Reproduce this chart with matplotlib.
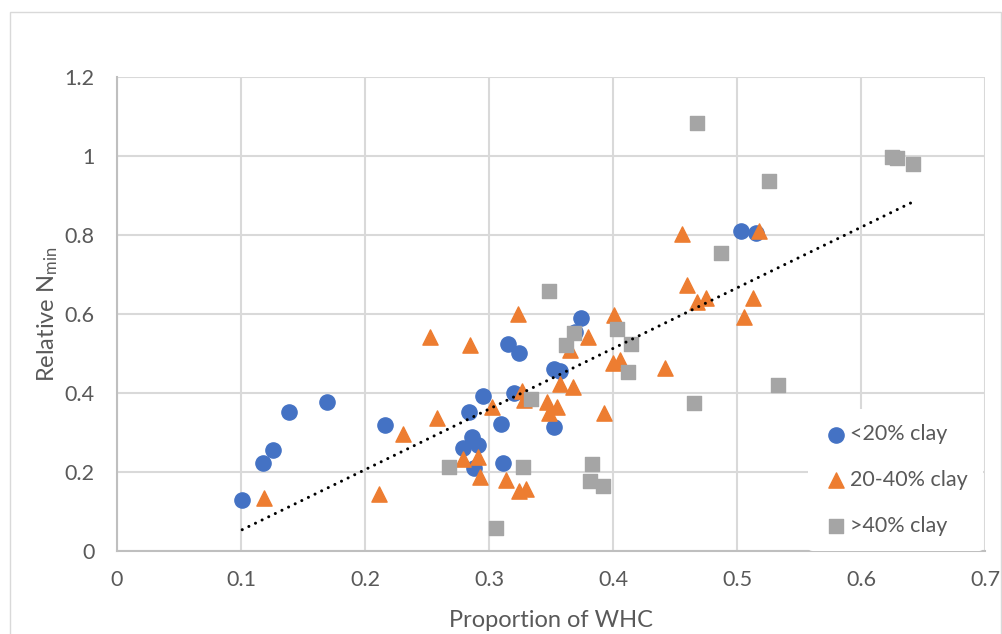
import numpy as np
import matplotlib
matplotlib.use("Agg")
import matplotlib.pyplot as plt
from matplotlib.patches import Rectangle

plt.rcParams["font.family"] = ["Lato", "DejaVu Sans"]
plt.rcParams["mathtext.default"] = "regular"

# <20% clay
low_x = [0.101, 0.1175, 0.126, 0.1387, 0.169, 0.216, 0.2949, 0.284, 0.286, 0.291,
         0.279, 0.288, 0.3745, 0.369, 0.3156, 0.3245, 0.3524, 0.357, 0.320, 0.310,
         0.3527, 0.3116, 0.503, 0.515]
low_y = [0.130, 0.224, 0.256, 0.351, 0.377, 0.319, 0.392, 0.353, 0.288, 0.268,
         0.260, 0.209, 0.589, 0.555, 0.523, 0.502, 0.460, 0.455, 0.401, 0.3205,
         0.313, 0.2236, 0.810, 0.804]

# 20-40% clay
mid_x = [0.1186, 0.2115, 0.2304, 0.2524, 0.2847, 0.2578, 0.3027, 0.279, 0.291, 0.2927,
         0.3234, 0.380, 0.365, 0.401, 0.400, 0.406, 0.357, 0.3675, 0.3264, 0.328,
         0.347, 0.3546, 0.348, 0.3927, 0.3137, 0.3245, 0.330, 0.4554, 0.460, 0.4675,
         0.475, 0.442, 0.5177, 0.5126, 0.5056]
mid_y = [0.134, 0.1435, 0.296, 0.541, 0.522, 0.336, 0.365, 0.232, 0.239, 0.188,
         0.600, 0.541, 0.509, 0.597, 0.475, 0.4835, 0.422, 0.414, 0.406, 0.382,
         0.378, 0.365, 0.350, 0.349, 0.180, 0.152, 0.156, 0.802, 0.673, 0.631,
         0.640, 0.4625, 0.810, 0.641, 0.5916]

# >40% clay
high_x = [0.268, 0.3056, 0.3487, 0.3685, 0.362, 0.403, 0.4145, 0.4118, 0.334, 0.3277,
          0.3828, 0.3815, 0.3917, 0.4675, 0.4868, 0.4656, 0.625, 0.629, 0.6417, 0.526,
          0.5333]
high_y = [0.2135, 0.059, 0.658, 0.551, 0.5215, 0.561, 0.523, 0.454, 0.386, 0.2135,
          0.2195, 0.177, 0.1645, 1.083, 0.755, 0.374, 0.998, 0.996, 0.981, 0.9375,
          0.419]

x_ticks = [0, 0.1, 0.2, 0.3, 0.4, 0.5, 0.6, 0.7]
x_tick_labels = ["0", "0.1", "0.2", "0.3", "0.4", "0.5", "0.6", "0.7"]
y_ticks = [0, 0.2, 0.4, 0.6, 0.8, 1.0, 1.2]
y_tick_labels = ["0", "0.2", "0.4", "0.6", "0.8", "1", "1.2"]

text_color = "#595959"
grid_color = "#D9D9D9"

fig = plt.figure(figsize=(10.03, 6.34), dpi=100)
ax = fig.add_axes([117 / 1003, 1 - 551 / 634, (985 - 117) / 1003, (551 - 77) / 634])

# chart border
fig.patches.append(Rectangle((10 / 1003, -0.05), (1001 - 10) / 1003, 1.05 - 12 / 634,
                             transform=fig.transFigure, fill=False,
                             edgecolor=grid_color, linewidth=1))

ax.scatter(low_x, low_y, s=120, marker="o", color="#4472C4", label="<20% clay", zorder=3)
ax.scatter(mid_x, mid_y, s=120, marker="^", color="#ED7D31", label="20-40% clay", zorder=3)
ax.scatter(high_x, high_y, s=110, marker="s", color="#A5A5A5", label=">40% clay", zorder=3)

# linear trendline over all points
all_x = np.array(low_x + mid_x + high_x)
all_y = np.array(low_y + mid_y + high_y)
slope, intercept = np.polyfit(all_x, all_y, 1)
tx = np.array([all_x.min(), all_x.max()])
ax.plot(tx, slope * tx + intercept, color="black", linewidth=2.2,
        linestyle=(0, (0.01, 2.4)), dash_capstyle="round", zorder=4)

ax.set_xlim(0, 0.7)
ax.set_ylim(0, 1.2)
ax.set_xticks(x_ticks)
ax.set_xticklabels(x_tick_labels)
ax.set_yticks(y_ticks)
ax.set_yticklabels(y_tick_labels)
ax.tick_params(length=0, labelsize=15.5, colors=text_color)
ax.tick_params(axis="y", pad=16)
ax.tick_params(axis="x", pad=14)
ax.grid(True, color=grid_color, linewidth=1.5)
ax.set_axisbelow(True)
for side in ["top", "right"]:
    ax.spines[side].set_visible(False)
for side in ["left", "bottom"]:
    ax.spines[side].set_color("#BFBFBF")
    ax.spines[side].set_linewidth(1.5)

ax.set_xlabel("Proportion of WHC", fontsize=17, color=text_color, labelpad=14)
ax.set_ylabel("Relative N$_{min}$", fontsize=17, color=text_color, labelpad=3)

leg = ax.legend(loc="lower right", bbox_to_anchor=(0.998, 0.0), fontsize=15.5,
                frameon=True, facecolor="white", edgecolor="none", framealpha=1,
                handletextpad=0.05, labelspacing=1.2, borderpad=0.7,
                handlelength=1.2, borderaxespad=0)
for t in leg.get_texts():
    t.set_color(text_color)

fig.savefig("out.png", dpi=100)
